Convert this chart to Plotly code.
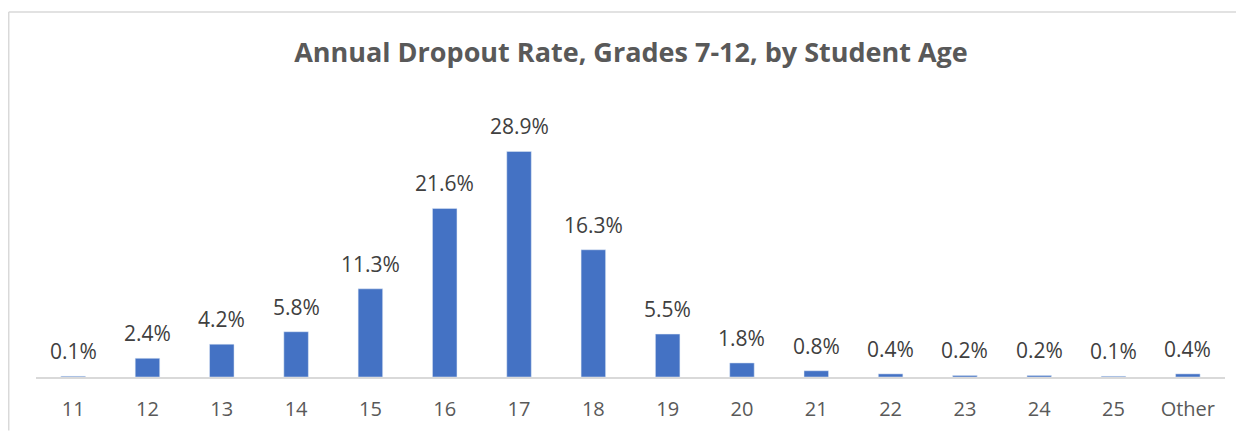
import plotly.graph_objects as go

ages = ["11", "12", "13", "14", "15", "16", "17", "18", "19", "20", "21", "22", "23", "24", "25", "Other"]
rates = [0.1, 2.4, 4.2, 5.8, 11.3, 21.6, 28.9, 16.3, 5.5, 1.8, 0.8, 0.4, 0.2, 0.2, 0.1, 0.4]
labels = [f"{v:.1f}%" for v in rates]

fig = go.Figure(go.Bar(x=ages, y=rates, marker_color="#4472C4"))

# page is offset by ~8px body margin
W, H = 1236, 426
ml, mr, mt, mb = 28, 19, 92, 54
pw, ph = W - ml - mr, H - mt - mb

for i, (v, t) in enumerate(zip(rates, labels)):
    fig.add_annotation(x=i, y=v, text=t, showarrow=False, yanchor="middle", yshift=25,
                       font=dict(family="Open Sans", size=21, color="#404040"))

fig.update_layout(
    width=W, height=H,
    margin=dict(l=ml, r=mr, t=mt, b=mb),
    paper_bgcolor="white", plot_bgcolor="white",
    bargap=0.67, showlegend=False,
    title=dict(text="<b>Annual Dropout Rate, Grades 7-12, by Student Age</b>",
               x=623 / W, xanchor="center", y=1 - 45 / H, yanchor="middle",
               xref="container", yref="container",
               font=dict(family="Open Sans", size=27, color="#595959")),
    xaxis=dict(type="category", showgrid=False, showline=True, linecolor="#d9d9d9", linewidth=1.5,
               ticks="", tickfont=dict(family="Open Sans", size=20, color="#595959"), ticklabelstandoff=13),
    yaxis=dict(visible=False, range=[0, ph / 7.89]),
)

# chart border (top and left)
x0 = -ml / pw + 0.0006
ytop = (H - mb - 3) / ph
fig.add_shape(type="line", xref="paper", yref="paper", x0=x0, x1=(W - ml) / pw, y0=ytop, y1=ytop,
              line=dict(color="#d9d9d9", width=1.5))
fig.add_shape(type="line", xref="paper", yref="paper", x0=x0, x1=x0, y0=ytop, y1=-mb / ph,
              line=dict(color="#d9d9d9", width=1.5))

fig.write_html("out.html")
